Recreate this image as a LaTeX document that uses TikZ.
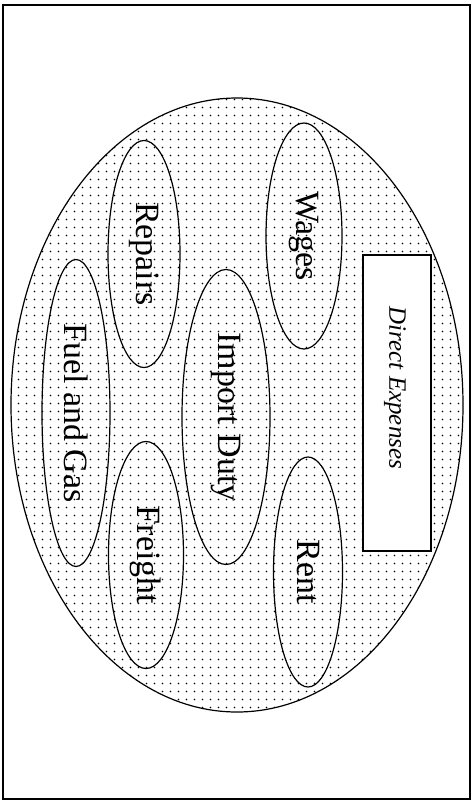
\documentclass[tikz,border=0pt]{standalone}
\usepackage{fontspec}
\setmainfont{Liberation Serif}
\usetikzlibrary{shapes.geometric,patterns}
\pgfdeclarepatternformonly{sparse dots}{\pgfpointorigin}{\pgfpoint{7.5pt}{7.5pt}}{\pgfpoint{7.5pt}{7.5pt}}{%
    \pgfpathcircle{\pgfpoint{3.75pt}{3.75pt}}{0.85pt}%
    \pgfusepath{fill}}
\tikzset{
    item/.style={ellipse, draw, line width=1.2pt, inner sep=0pt, rotate=-90, font=\fontsize{34}{34}\selectfont},
    dotted area/.style={pattern=sparse dots},
}
\begin{document}
\begin{tikzpicture}[x=1pt, y=-1pt]
    \useasboundingbox (0,0) rectangle (476,801);
    \draw[line width=2pt] (3,5) rectangle (470,799);
    \node[ellipse, draw, line width=1.2pt, dotted area, minimum width=452pt, minimum height=614pt] (costs) at (237,405) {};
    \foreach \n/\x/\y/\w/\h/\t in {wages/304/236/226/76/Wages, repairs/144/254/227/72/Repairs,
            fuel/76/413/307/68/Fuel and Gas, duty/226/417/295/88/Import Duty,
            freight/146/555/227/75/Freight, rent/308/572/230/69/Rent}
        \node[item, minimum width=\w pt, minimum height=\h pt] (\n) at (\x,\y) {\t};
    \node[draw, fill=white, line width=1.6pt, minimum width=68pt, minimum height=296pt] (direct) at (397,403) {};
    \node[rotate=-90, font=\fontsize{25}{25}\itshape] (directtext) at (395,388) {Direct Expenses};
\end{tikzpicture}
\end{document}
